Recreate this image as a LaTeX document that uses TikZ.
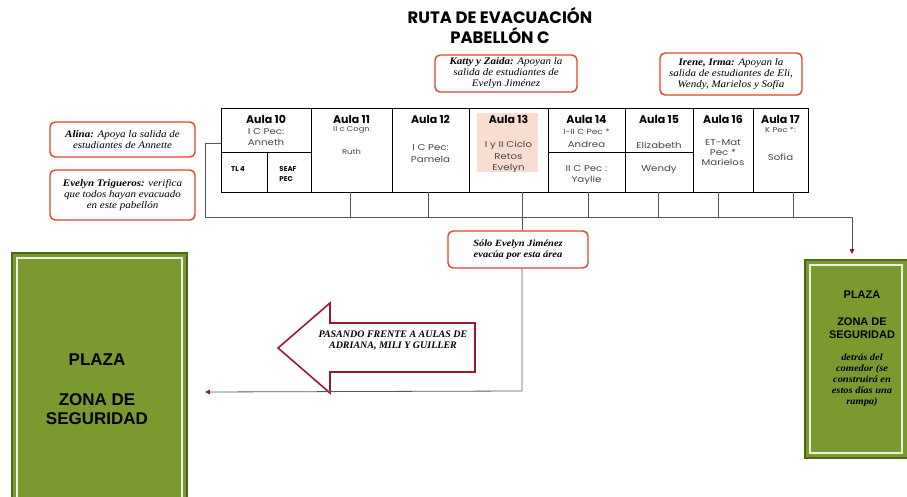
\documentclass[tikz,border=0pt]{standalone}
\usepackage{fontspec}
\setmainfont{Liberation Serif}
\newfontfamily\noteserif{Liberation Serif}[FakeStretch=1.1]
\newfontfamily\gothic{Poppins}
\newfontfamily\gothicw{Poppins}[FakeStretch=1.2]
\newfontfamily\heavy{Liberation Sans}
\usetikzlibrary{arrows.meta,positioning}
\definecolor{boxred}{HTML}{E0452B}
\definecolor{arrowred}{HTML}{9A1C2C}
\definecolor{tipred}{HTML}{7A1E3C}
\definecolor{linegray}{HTML}{5A5458}
\definecolor{plazagreen}{HTML}{7A9A30}
\definecolor{plazadark}{HTML}{4D6A18}
\definecolor{peach}{HTML}{F8DDD0}
\definecolor{celltext}{HTML}{454545}

\begin{document}
\begin{tikzpicture}[x=1pt,y=-1pt,
		aula/.style={font=\gothic\bfseries\fontsize{11}{12}\selectfont, inner sep=0pt},
		cell/.style={font=\gothicw\fontsize{8.5}{11.5}\selectfont, text=celltext, align=center, inner sep=0pt},
		tiny/.style={font=\gothicw\fontsize{7}{8}\selectfont, text=celltext, inner sep=0pt},
		small/.style={font=\gothic\bfseries\fontsize{7}{10}\selectfont, align=left, inner sep=0pt},
		note/.style={draw=boxred, line width=1.4pt, rounded corners=5pt, fill=white, align=center,
			font=\noteserif\itshape\fontsize{10}{11}\selectfont, inner sep=1pt},
		wire/.style={draw=linegray, line width=0.8pt},
		tip/.style={-{Triangle[length=5pt,width=4.5pt,color=tipred]}},
		plaza/.style={font=\heavy\bfseries\fontsize{17}{19}\selectfont, align=center, inner sep=0pt}]
	%%%%% START %%%%%
	\clip (0,0) rectangle (907,497);
	\useasboundingbox (0,0) rectangle (907,497);
	
	\node[font=\gothic\bfseries\fontsize{16.5}{20}\selectfont, align=center] (title) at (500,26) {RUTA DE EVACUACIÓN\\PABELLÓN C};
	
	% pabellon
	\fill[peach] (477,113) rectangle (538,172);
	\draw[line width=0.8pt] (221,108) rectangle (808,192);
	\foreach \x in {311,392,469,548,625,693,753}
		\draw[line width=0.8pt] (\x,108) -- (\x,192);
	\draw[line width=0.8pt] (221,152) -- (311,152);
	\draw[line width=0.8pt] (267,152) -- (267,192);
	\draw[line width=0.8pt] (548,152) -- (693,152);
	
	\node[aula] (a10) at (266,119) {Aula 10};
	\node[cell] (a10t) at (266,137) {I C Pec:\\Anneth};
	\node[small] (tl) at (238,169) {TL 4};
	\node[small] (seaf) at (288,174) {SEAF\\PEC};
	
	\node[aula] (a11) at (351.5,119) {Aula 11};
	\node[tiny] (a11t) at (351.5,130) {II c Cogn};
	\node[tiny] (ruth) at (351.5,152) {Ruth};
	
	\node[aula] (a12) at (430.5,119) {Aula 12};
	\node[cell] (a12t) at (430.5,153.5) {I C Pec:\\Pamela};
	
	\node[aula] (a13) at (508.5,119) {Aula 13};
	\node[cell] (a13t) at (508.5,157) {I y II Ciclo\\Retos\\Evelyn};
	
	\node[aula] (a14) at (586.5,119) {Aula 14};
	\node[tiny, font=\gothicw\fontsize{7.5}{8}\selectfont] (a14t) at (586.5,132) {I-II C Pec *};
	\node[cell] (andrea) at (586.5,144) {Andrea};
	\node[cell] (a14b) at (586.5,175) {II C Pec :\\Yaylie};
	
	\node[aula] (a15) at (659,119) {Aula 15};
	\node[cell] (a15t) at (659,145) {Elizabeth};
	\node[cell] (a15b) at (659,169) {Wendy};
	
	\node[aula] (a16) at (723,119) {Aula 16};
	\node[cell, font=\gothicw\fontsize{8.5}{10}\selectfont] (a16t) at (723,153) {ET-Mat\\Pec *\\Marielos};
	
	\node[aula] (a17) at (780.5,119) {Aula 17};
	\node[tiny] (a17t) at (780.5,130) {K Pec *:};
	\node[cell] (sofia) at (780.5,157) {Sofia};
	
	% encargados
	\node[note, minimum width=145pt, minimum height=35pt] (alina) at (122.5,139.5) {\textbf{Alina:} Apoya la salida de\\estudiantes de Annette};
	\node[note, minimum width=145pt, minimum height=50pt] (trig) at (122.5,195) {\textbf{Evelyn Trigueros:} verifica\\que todos hayan evacuado\\en este pabellón};
	\node[note, minimum width=142pt, minimum height=37pt] (katty) at (506,73.5) {\textbf{Katty y Zaida:} Apoyan la\\salida de estudiantes de\\Evelyn Jiménez};
	\node[note, minimum width=142pt, minimum height=42pt] (irene) at (731,74) {\textbf{Irene, Irma:} Apoyan la\\salida de estudiantes de Eli,\\Wendy, Marielos y Sofía};
	\node[note, minimum width=140pt, minimum height=37pt, font=\noteserif\bfseries\itshape\fontsize{9.5}{11}\selectfont] (solo) at (518,249.5) {Sólo Evelyn Jiménez\\evacúa por esta área};
	
	% zonas de seguridad
	\fill[plazagreen] (12,253) rectangle (187,505);
	\draw[plazadark, line width=2.5pt] (12,253) rectangle (187,505);
	\draw[white!85!plazagreen, line width=1.2pt] (17,258) rectangle (182,500);
	\node[plaza] (plazaL) at (97,360) {PLAZA};
	\node[plaza] (zonaL) at (97,409) {ZONA DE\\SEGURIDAD};
	
	\fill[plazagreen] (805,260) rectangle (910,458);
	\draw[plazadark, line width=2.5pt] (805,260) rectangle (910,458);
	\draw[white!85!plazagreen, line width=1.2pt] (810,265) rectangle (902,453);
	\node[plaza, font=\heavy\bfseries\fontsize{11}{13.5}\selectfont] (plazaR) at (862,295) {PLAZA};
	\node[plaza, font=\heavy\bfseries\fontsize{11}{13.5}\selectfont] (zonaR) at (862,328) {ZONA DE\\SEGURIDAD};
	\node[font=\noteserif\bfseries\itshape\fontsize{9.5}{11}\selectfont, align=center, inner sep=0pt] (detras) at (862,380) {detrás del\\comedor (se\\construirá en\\estos días una\\rampa)};
	
	% flecha grande
	\draw[arrowred, line width=1.6pt, fill=white, line join=miter] (278,348) -- (330,303) -- (330,323) -- (475,323) -- (475,372) -- (330,372) -- (330,393) -- cycle;
	\node[font=\bfseries\itshape\fontsize{10}{11}\selectfont, align=center, inner sep=0pt] (pasando) at (393,340) {PASANDO FRENTE A AULAS DE\\ADRIANA, MILI Y GUILLER};
	
	% ruta
	\foreach \x [count=\i] in {350,428,588,658,718,793} {
		\coordinate (up\i) at (\x,192);
		\coordinate (dn\i) at (\x,217);
		\draw[wire] (up\i) -- (dn\i);
	}
	\coordinate (side) at (221,143);
	\coordinate (busL) at (205,217);
	\coordinate (busR) at (852,217);
	\coordinate (inR) at (852,254);
	\draw[wire, tip] (side) -- (side -| busL) -- (busL) -- (busR) -- (inR);
	
	\coordinate (up13) at (522,192);
	\coordinate (turn) at (522,391);
	\coordinate (inL) at (205,392);
	\draw[wire] (up13) -- (up13 |- solo.north);
	\draw[wire, tip] (up13 |- solo.south) -- (turn) -- (inL);
	%%%%% END %%%%%
\end{tikzpicture}
\end{document}
